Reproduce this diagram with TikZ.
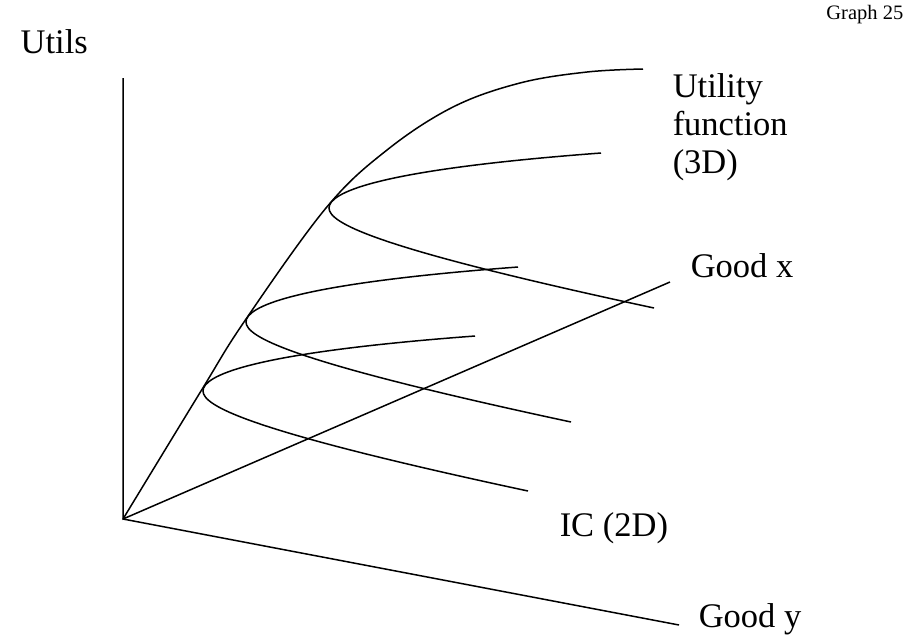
\documentclass[tikz,border=0pt]{standalone}
\usepackage{fontspec}
\setmainfont{Liberation Serif}
\usepackage{tikz}

\begin{document}
\begin{tikzpicture}[x=0.5pt, y=-0.5pt, line width=0.75pt,
  lbl/.style={inner sep=0pt, font=\fontsize{17.25}{19}\selectfont},
  small/.style={inner sep=0pt, font=\fontsize{10.25}{12}\selectfont}]
  \useasboundingbox (0,0) rectangle (912,639);
  % axes
  \coordinate (O) at (123,519);
  \coordinate (utop) at (123,78);
  \coordinate (xend) at (670,282);
  \coordinate (yend) at (679,625);
  \draw (utop) -- (O) -- (xend);
  \draw (O) -- (yend);
  % utility function
  \draw plot[smooth, tension=0.6] coordinates {(123,519) (201,391) (244,322)
    (326,208) (387,150) (453,107) (520,83) (587,72) (643,69)};
  % indifference curves
  \foreach \nx/\ny in {329/208, 246/322, 203/391}
    \draw[shift={(\nx,\ny)}] (272,-55) .. controls (45,-38) and (0,-15) .. (0,0)
      .. controls (0,15) and (45,40) .. (325,100);
  % labels
  \node[lbl, anchor=base west] (utils) at (20,53) {Utils};
  \node[small, anchor=base east] (graph) at (904,19) {Graph 25};
  \node[lbl, anchor=base west] (util1) at (672,97) {Utility};
  \node[lbl, anchor=base west] (util2) at (672,135) {function};
  \node[lbl, anchor=base west] (util3) at (672,173) {(3D)};
  \node[lbl, anchor=base west] (goodx) at (690,277) {Good x};
  \node[lbl, anchor=base west] (ic) at (559,536) {IC (2D)};
  \node[lbl, anchor=base west] (goody) at (698,627) {Good y};
\end{tikzpicture}
\end{document}
